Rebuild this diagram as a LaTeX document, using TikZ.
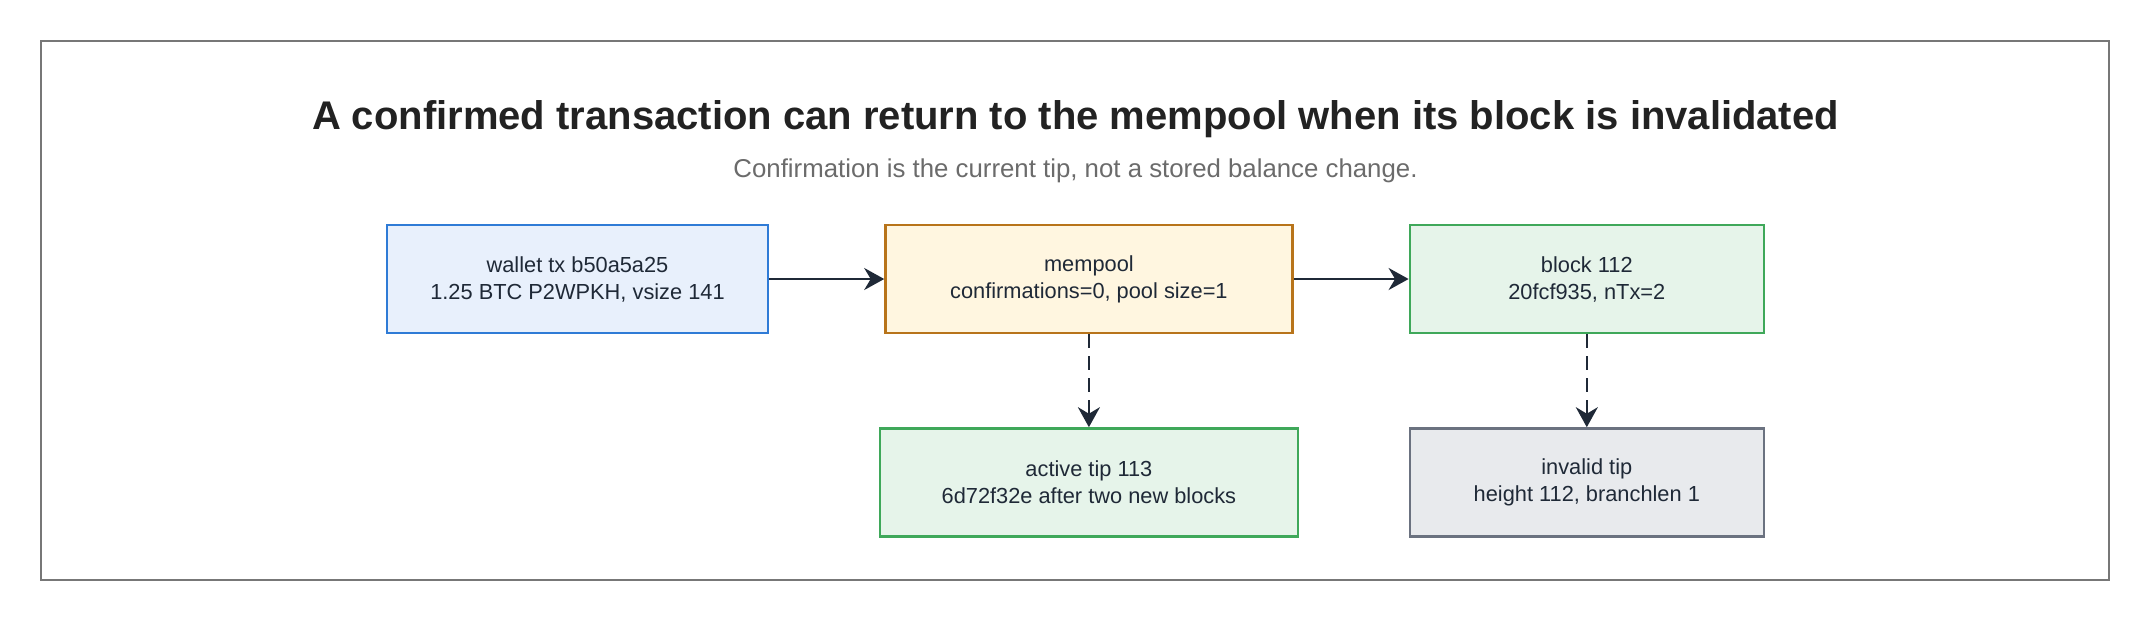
\documentclass[tikz,border=0pt]{standalone}
\usepackage{fontspec}
\setmainfont{Liberation Sans}
\usepackage{tikz}
\usetikzlibrary{positioning,arrows.meta}
\definecolor{ink}{HTML}{1F2937}
\definecolor{headtext}{HTML}{222222}
\definecolor{subtext}{HTML}{6B6B6B}
\definecolor{framegray}{HTML}{777777}
\definecolor{walletfill}{HTML}{E8F0FC}
\definecolor{walletline}{HTML}{2F7BD6}
\definecolor{poolfill}{HTML}{FFF6E0}
\definecolor{poolline}{HTML}{B8741A}
\definecolor{chainfill}{HTML}{E6F4EA}
\definecolor{chainline}{HTML}{3FA85A}
\definecolor{stalefill}{HTML}{E8EAED}
\definecolor{staleline}{HTML}{6B7280}

\begin{document}
\begin{tikzpicture}[
  x=1pt, y=1pt,
  box/.style={draw, line width=1.2pt, align=center, inner sep=0pt, text=ink, font=\fontsize{10.9}{13.5}\selectfont, minimum height=54pt},
  flow/.style={draw=ink, line width=1.2pt, -{Stealth[length=10pt, width=11pt]}},
  hint/.style={flow, dash pattern=on 7pt off 4pt}
]
  \useasboundingbox (0,0) rectangle (1075.5,-311.5);
  \draw[framegray, line width=1.2pt] (20.5,-20.5) rectangle (1054.5,-290);

  \node[font=\bfseries\fontsize{20}{24}\selectfont, text=headtext] (title) at (537.75,-59.5) {A confirmed transaction can return to the mempool when its block is invalidated};
  \node[font=\fontsize{12.9}{15}\selectfont, text=subtext] (sub) at (537.75,-85.5) {Confirmation is the current tip, not a stored balance change.};

  \node[box, fill=walletfill, draw=walletline, minimum width=190.5pt] (wallet) at (288.75,-139.5) {wallet tx b50a5a25\\1.25 BTC P2WPKH, vsize 141};
  \node[box, fill=poolfill, draw=poolline, minimum width=203.5pt, right=57.5pt of wallet] (mempool) {mempool\\confirmations=0, pool size=1};
  \node[box, fill=chainfill, draw=chainline, minimum width=177pt, right=57.5pt of mempool] (block) {block 112\\20fcf935, nTx=2};
  \node[box, fill=chainfill, draw=chainline, minimum width=209pt, below=46.5pt of mempool] (active) {active tip 113\\6d72f32e after two new blocks};
  \node[box, fill=stalefill, draw=staleline, minimum width=177pt, below=46.5pt of block] (invalid) {invalid tip\\height 112, branchlen 1};

  \draw[flow] (wallet) -- (mempool);
  \draw[flow] (mempool) -- (block);
  \draw[hint] (mempool) -- (active);
  \draw[hint] (block) -- (invalid);
\end{tikzpicture}
\end{document}
